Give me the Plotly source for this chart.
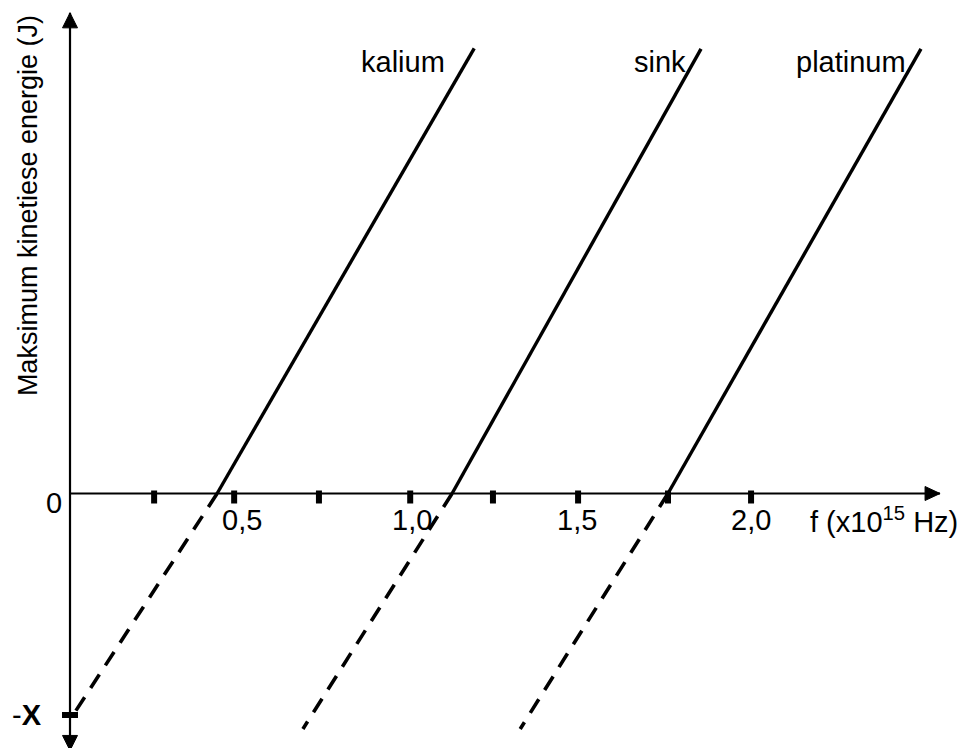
"""
Foto-elektriese effek: maksimum kinetiese energie teen frekwensie vir drie metale.
"""
import plotly.graph_objects as go

FONT = 'Liberation Sans, Arial, sans-serif'
BLACK = '#000000'

# metale en hul lyne (f in x10^15 Hz, E in eenhede van X)
metals = ['kalium', 'sink', 'platinum']
f0 = [0.432, 1.122, 1.756]          # drumpelfrekwensie (snypunt met f-as)
f_top = [1.187, 1.853, 2.499]       # bo-punt van die soliede lyn
e_top = [2.01, 2.007, 2.007]
f_ext = [0.009, 0.684, 1.322]       # onderpunt van die gestippelde ekstrapolasie
e_ext = [-1.0, -1.063, -1.063]

# etiket-posisies (regterkant van die teks)
label_f = [1.107, 1.815, 2.461]
label_e = [1.948, 1.948, 1.948]

# f-as merkies en byskrifte
tick_f = [0.247, 0.482, 0.731, 0.999, 1.242, 1.492, 1.756, 2.0]
ticklabel_f = [0.505, 1.004, 1.489, 2.0]
ticklabel_text = ['0,5', '1,0', '1,5', '2,0']

# asse
x_axis_end = 2.555
y_axis_top = 2.17
y_axis_bottom = -1.16
minus_x = -1.0

fig = go.Figure()

for i, name in enumerate(metals):
    fig.add_trace(go.Scatter(
        x=[f0[i], f_top[i]], y=[0, e_top[i]],
        mode='lines', line=dict(color=BLACK, width=3.4),
        name=name, showlegend=False, hoverinfo='skip',
    ))
    fig.add_trace(go.Scatter(
        x=[f0[i], f_ext[i]], y=[0, e_ext[i]],
        mode='lines', line=dict(color=BLACK, width=3.6, dash='16px,11px'),
        showlegend=False, hoverinfo='skip',
    ))
    fig.add_annotation(
        x=label_f[i], y=label_e[i], text=name, showarrow=False,
        xanchor='right', yanchor='middle',
        font=dict(family=FONT, size=29, color=BLACK),
    )

shapes = [
    # f-as en y-as
    dict(type='line', x0=0, x1=x_axis_end, y0=0, y1=0,
         line=dict(color=BLACK, width=2.2)),
    dict(type='line', x0=0, x1=0, y0=y_axis_bottom, y1=y_axis_top,
         line=dict(color=BLACK, width=2.2)),
    # pylpunte
    dict(type='path', xref='x', yref='y', xsizemode='pixel', ysizemode='pixel',
         xanchor=x_axis_end, yanchor=0, path='M 0 0 L -15 7 L -15 -7 Z',
         fillcolor=BLACK, line=dict(color=BLACK, width=1)),
    dict(type='path', xref='x', yref='y', xsizemode='pixel', ysizemode='pixel',
         xanchor=0, yanchor=y_axis_top, path='M 0 0 L -7.5 -15 L 7.5 -15 Z',
         fillcolor=BLACK, line=dict(color=BLACK, width=1)),
    dict(type='path', xref='x', yref='y', xsizemode='pixel', ysizemode='pixel',
         xanchor=0, yanchor=y_axis_bottom, path='M 0 0 L -7.5 15 L 7.5 15 Z',
         fillcolor=BLACK, line=dict(color=BLACK, width=1)),
    # -X merkie op y-as
    dict(type='rect', xref='x', yref='y', xsizemode='pixel', ysizemode='pixel',
         xanchor=0, yanchor=minus_x, x0=-8, x1=8, y0=-3, y1=3,
         fillcolor=BLACK, line=dict(width=0)),
]
for t in tick_f:
    shapes.append(dict(
        type='rect', xref='x', yref='y', xsizemode='pixel', ysizemode='pixel',
        xanchor=t, yanchor=0, x0=-3, x1=3, y0=-10, y1=3,
        fillcolor=BLACK, line=dict(width=0),
    ))

for xf, txt in zip(ticklabel_f, ticklabel_text):
    fig.add_annotation(
        x=xf, y=-0.12, text=txt, showarrow=False,
        xanchor='center', yanchor='middle',
        font=dict(family=FONT, size=29, color=BLACK),
    )

fig.add_annotation(x=2.167, y=-0.12, text='f (x10<sup>15</sup> Hz)',
                   showarrow=False, xanchor='left', yanchor='middle',
                   font=dict(family=FONT, size=29, color=BLACK))
fig.add_annotation(x=-0.047, y=-0.043, text='0', showarrow=False,
                   xanchor='center', yanchor='middle',
                   font=dict(family=FONT, size=29, color=BLACK))
fig.add_annotation(x=-0.126, y=minus_x, text='-<b>X</b>', showarrow=False,
                   xanchor='center', yanchor='middle',
                   font=dict(family=FONT, size=29, color=BLACK))
fig.add_annotation(x=-0.123, y=1.298, text='Maksimum kinetiese energie (J)',
                   showarrow=False, textangle=-90,
                   xanchor='center', yanchor='middle',
                   font=dict(family=FONT, size=27, color=BLACK))

fig.update_layout(
    width=969, height=748,
    margin=dict(l=0, r=0, t=0, b=0),
    paper_bgcolor='white', plot_bgcolor='white',
    xaxis=dict(visible=False, range=[-0.2056, 2.640]),
    yaxis=dict(visible=False, range=[-1.149, 2.228]),
    shapes=shapes,
    showlegend=False,
)

fig.write_html('out.html', config=dict(displayModeBar=False),
               post_script="document.body.style.margin='0';")
